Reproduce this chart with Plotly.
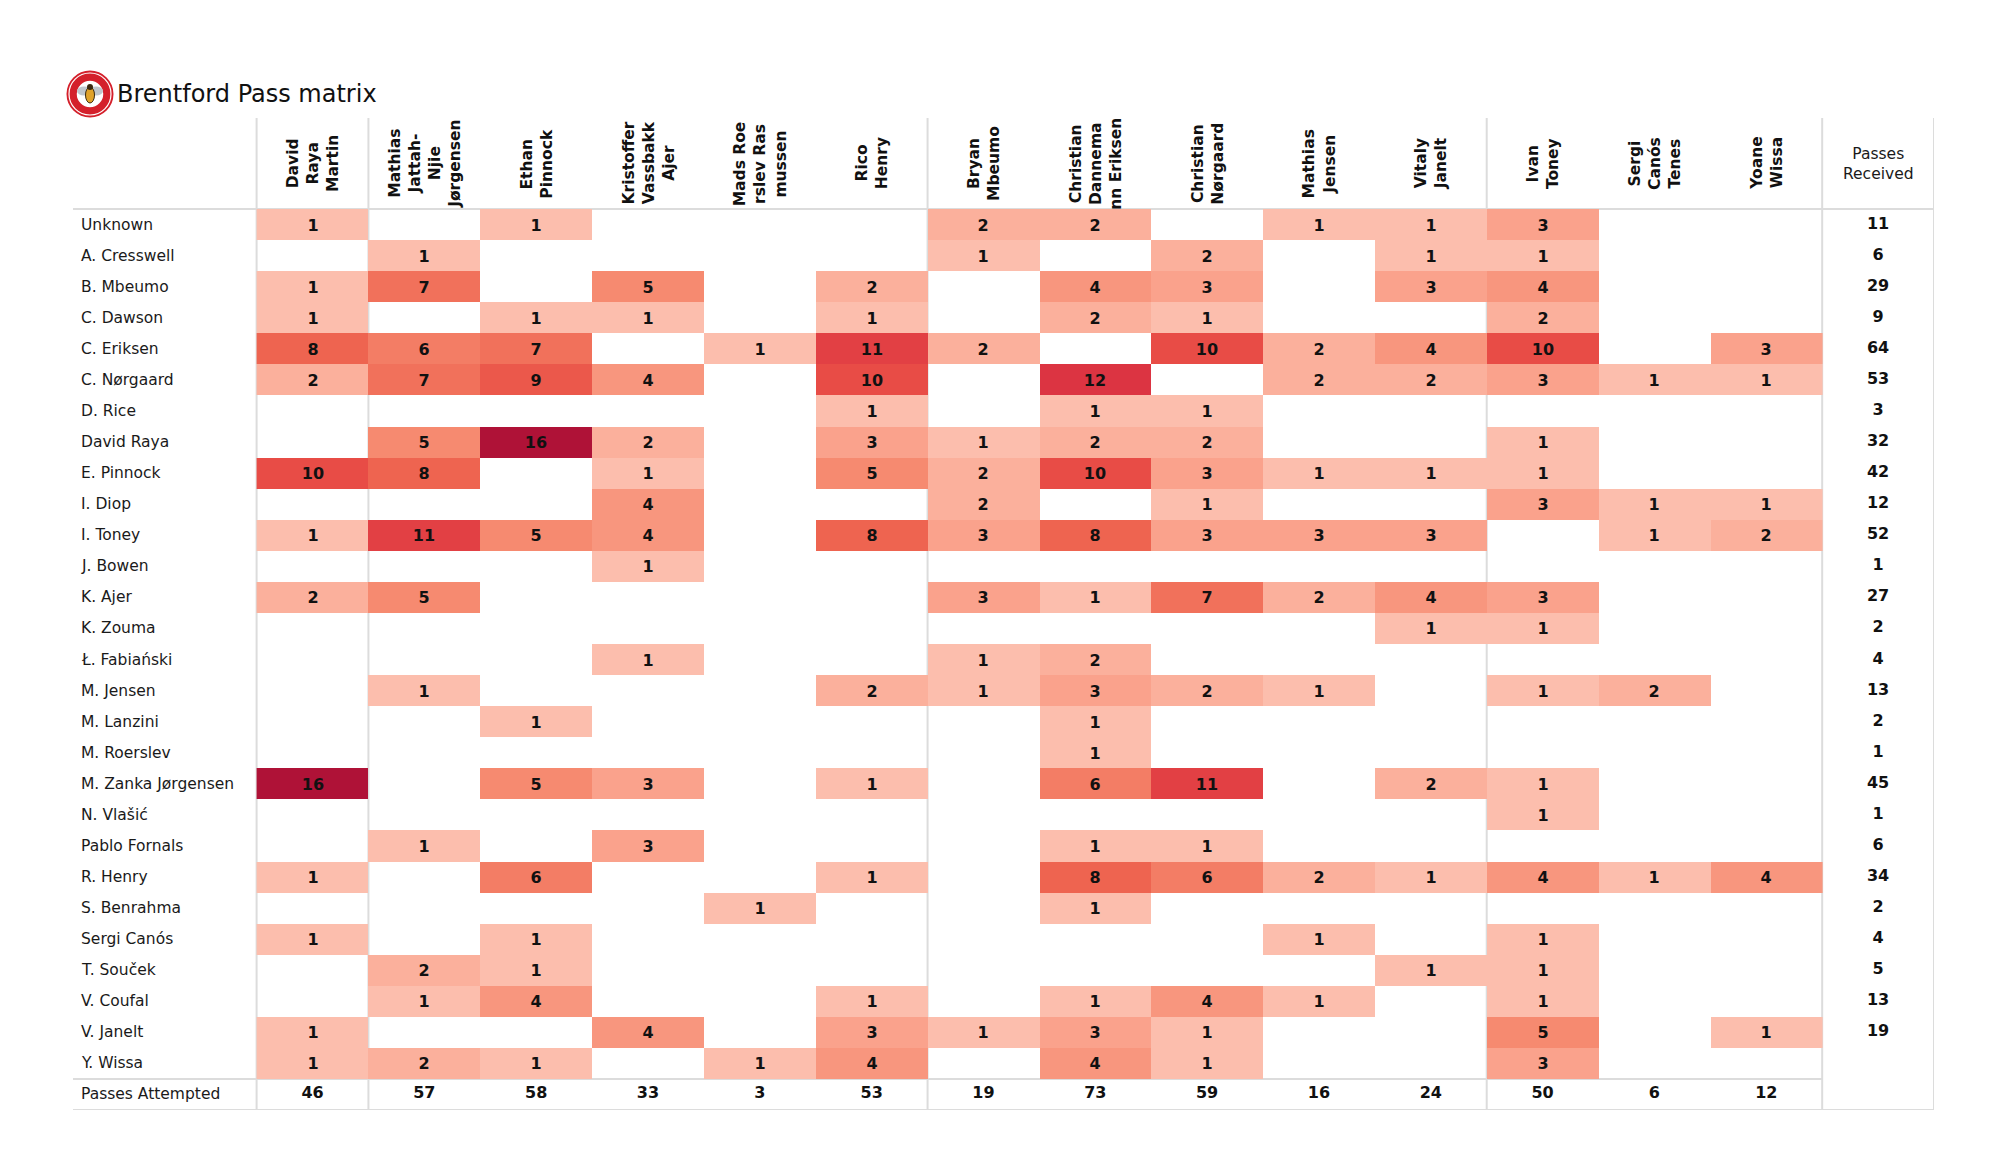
import plotly.graph_objects as go

# ---------------- data ----------------
title_text = "Brentford Pass matrix"

receivers = [
    "David<br>Raya<br>Martin",
    "Mathias<br>Jattah-<br>Njie<br>Jørgensen",
    "Ethan<br>Pinnock",
    "Kristoffer<br>Vassbakk<br>Ajer",
    "Mads Roe<br>rslev Ras<br>mussen",
    "Rico<br>Henry",
    "Bryan<br>Mbeumo",
    "Christian<br>Dannema<br>nn Eriksen",
    "Christian<br>Nørgaard",
    "Mathias<br>Jensen",
    "Vitaly<br>Janelt",
    "Ivan<br>Toney",
    "Sergi<br>Canós<br>Tenes",
    "Yoane<br>Wissa",
]

passers = [
    "Unknown", "A. Cresswell", "B. Mbeumo", "C. Dawson", "C. Eriksen",
    "C. Nørgaard", "D. Rice", "David Raya", "E. Pinnock", "I. Diop",
    "I. Toney", "J. Bowen", "K. Ajer", "K. Zouma", "Ł. Fabiański",
    "M. Jensen", "M. Lanzini", "M. Roerslev", "M. Zanka Jørgensen",
    "N. Vlašić", "Pablo Fornals", "R. Henry", "S. Benrahma", "Sergi Canós",
    "T. Souček", "V. Coufal", "V. Janelt", "Y. Wissa",
]

N = None
passes = [
    [1, N, 1, N, N, N, 2, 2, N, 1, 1, 3, N, N],
    [N, 1, N, N, N, N, 1, N, 2, N, 1, 1, N, N],
    [1, 7, N, 5, N, 2, N, 4, 3, N, 3, 4, N, N],
    [1, N, 1, 1, N, 1, N, 2, 1, N, N, 2, N, N],
    [8, 6, 7, N, 1, 11, 2, N, 10, 2, 4, 10, N, 3],
    [2, 7, 9, 4, N, 10, N, 12, N, 2, 2, 3, 1, 1],
    [N, N, N, N, N, 1, N, 1, 1, N, N, N, N, N],
    [N, 5, 16, 2, N, 3, 1, 2, 2, N, N, 1, N, N],
    [10, 8, N, 1, N, 5, 2, 10, 3, 1, 1, 1, N, N],
    [N, N, N, 4, N, N, 2, N, 1, N, N, 3, 1, 1],
    [1, 11, 5, 4, N, 8, 3, 8, 3, 3, 3, N, 1, 2],
    [N, N, N, 1, N, N, N, N, N, N, N, N, N, N],
    [2, 5, N, N, N, N, 3, 1, 7, 2, 4, 3, N, N],
    [N, N, N, N, N, N, N, N, N, N, 1, 1, N, N],
    [N, N, N, 1, N, N, 1, 2, N, N, N, N, N, N],
    [N, 1, N, N, N, 2, 1, 3, 2, 1, N, 1, 2, N],
    [N, N, 1, N, N, N, N, 1, N, N, N, N, N, N],
    [N, N, N, N, N, N, N, 1, N, N, N, N, N, N],
    [16, N, 5, 3, N, 1, N, 6, 11, N, 2, 1, N, N],
    [N, N, N, N, N, N, N, N, N, N, N, 1, N, N],
    [N, 1, N, 3, N, N, N, 1, 1, N, N, N, N, N],
    [1, N, 6, N, N, 1, N, 8, 6, 2, 1, 4, 1, 4],
    [N, N, N, N, 1, N, N, 1, N, N, N, N, N, N],
    [1, N, 1, N, N, N, N, N, N, 1, N, 1, N, N],
    [N, 2, 1, N, N, N, N, N, N, N, 1, 1, N, N],
    [N, 1, 4, N, N, 1, N, 1, 4, 1, N, 1, N, N],
    [1, N, N, 4, N, 3, 1, 3, 1, N, N, 5, N, 1],
    [1, 2, 1, N, 1, 4, N, 4, 1, N, N, 3, N, N],
]

passes_received = [11, 6, 29, 9, 64, 53, 3, 32, 42, 12, 52, 1, 27, 2, 4, 13,
                   2, 1, 45, 1, 6, 34, 2, 4, 5, 13, 19, None]
passes_attempted = [46, 57, 58, 33, 3, 53, 19, 73, 59, 16, 24, 50, 6, 12]

# ---------------- layout constants ----------------
W, H = 2000, 1175
BODY = 8  # default page body margin
# target page-pixel box of the table area
PX_L, PX_R, PX_T, PX_B = 73, 1934, 118, 1110
ML = PX_L - BODY
MT = PX_T - BODY
MR = W - (PX_R - BODY)
MB = H - (PX_B - BODY)
PLOT_W = PX_R - PX_L
PLOT_H = PX_B - PX_T

COL_W = 111.88
ROW_H = 31.07
ncol = len(receivers)
nrow = len(passers)
label_w = 183.7 / COL_W
header_h = 91 / ROW_H
x_lo = -0.5 - label_w
x_hi = ncol + 0.5
y_top = -0.5 - header_h
y_bot = nrow + 0.5


def px_paper(px, py):
    """page pixel -> paper coordinates"""
    return (px - PX_L) / PLOT_W, 1 - (py - PX_T) / PLOT_H


FONT = "DejaVu Sans"
TXT = "#111111"
GRID = "#dcdcdc"

colorscale = [
    [0.0, "rgb(252,190,173)"],
    [0.133, "rgb(250,162,140)"],
    [0.267, "rgb(246,138,112)"],
    [0.467, "rgb(238,100,80)"],
    [0.6, "rgb(232,76,70)"],
    [0.733, "rgb(220,52,66)"],
    [1.0, "rgb(175,18,55)"],
]

cell_text = [["" if v is None else str(v) for v in row] for row in passes]

fig = go.Figure()
fig.add_trace(go.Heatmap(
    z=passes, x=list(range(ncol)), y=list(range(nrow)),
    text=cell_text, texttemplate="%{text}",
    textfont=dict(family=FONT, size=16, color=TXT, weight="bold"),
    colorscale=colorscale, zmin=1, zmax=16, showscale=False,
    hoverinfo="skip", xgap=0, ygap=0,
))

# passes received column
rec_y = [i for i, v in enumerate(passes_received) if v is not None]
rec_t = [str(v) for v in passes_received if v is not None]
fig.add_trace(go.Scatter(
    x=[ncol] * len(rec_y), y=rec_y, text=rec_t, mode="text",
    textfont=dict(family=FONT, size=16, color=TXT, weight="bold"),
    textposition="middle center", hoverinfo="skip", showlegend=False,
))
# passes attempted row
fig.add_trace(go.Scatter(
    x=list(range(ncol)), y=[nrow] * ncol, text=[str(v) for v in passes_attempted],
    mode="text", textfont=dict(family=FONT, size=16, color=TXT, weight="bold"),
    textposition="middle center", hoverinfo="skip", showlegend=False,
))

annotations = []
# row labels
for i, name in enumerate(passers + ["Passes Attempted"]):
    annotations.append(dict(
        x=x_lo + 6 / COL_W, y=i, xref="x", yref="y", text=name,
        showarrow=False, xanchor="left", yanchor="middle",
        font=dict(family=FONT, size=15.5, color="#1a1a1a"),
    ))
# column headers
hy = -0.5 - header_h / 2
for j, lab in enumerate(receivers):
    annotations.append(dict(
        x=j, y=hy, xref="x", yref="y", text=f"<b>{lab}</b>", textangle=-90,
        showarrow=False, xanchor="center", yanchor="middle", align="center",
        font=dict(family=FONT, size=15.5, color=TXT),
    ))
annotations.append(dict(
    x=ncol, y=hy, xref="x", yref="y", text="Passes<br>Received",
    showarrow=False, xanchor="center", yanchor="middle", align="center",
    font=dict(family=FONT, size=15.5, color="#1a1a1a"),
))
# title
tx, ty = px_paper(115, 94)
annotations.append(dict(
    x=tx, y=ty, xref="paper", yref="paper", text=title_text,
    showarrow=False, xanchor="left", yanchor="middle",
    font=dict(family=FONT, size=24, color="#111111"),
))

shapes = []
# vertical separators
for xv in [-0.5, 0.5, 5.5, 10.5, 13.5, 14.5]:
    shapes.append(dict(type="line", xref="x", yref="y", x0=xv, x1=xv,
                       y0=y_top, y1=y_bot, line=dict(color=GRID, width=2),
                       layer="below"))
# horizontal separators
shapes.append(dict(type="line", xref="x", yref="y", x0=x_lo, x1=x_hi,
                   y0=-0.5, y1=-0.5, line=dict(color=GRID, width=2), layer="below"))
shapes.append(dict(type="line", xref="x", yref="y", x0=x_lo, x1=ncol - 0.5,
                   y0=nrow - 0.5, y1=nrow - 0.5, line=dict(color=GRID, width=2), layer="below"))
shapes.append(dict(type="line", xref="x", yref="y", x0=x_lo, x1=x_hi,
                   y0=y_bot, y1=y_bot, line=dict(color=GRID, width=2), layer="below"))

# logo (approximate Brentford crest)
lx, ly = px_paper(90, 94)


def circ(r, fill, line_color=None, lw=0, dx=0, dy=0, rx=None):
    rx = r if rx is None else rx
    return dict(type="circle", xref="paper", yref="paper", xsizemode="pixel", ysizemode="pixel",
                xanchor=lx, yanchor=ly, x0=dx - rx, x1=dx + rx, y0=dy - r, y1=dy + r,
                fillcolor=fill, line=dict(color=line_color or fill, width=lw),
                layer="above")


shapes += [
    circ(23.5, "#d4202b"),
    circ(21, "rgba(0,0,0,0)", "white", 1.2),
    circ(14, "white", "#d4202b", 1.5),
    circ(4.5, "#bfc6cc", dx=-6, dy=3, rx=7),
    circ(4.5, "#bfc6cc", dx=6, dy=3, rx=7),
    circ(8, "#e0a32a", "#3a2a10", 1, dx=0, dy=-1, rx=4.5),
    circ(3, "#3a2a10", dx=0, dy=7, rx=3),
]

fig.update_layout(
    width=W, height=H,
    margin=dict(l=ML, r=MR, t=MT, b=MB, pad=0),
    paper_bgcolor="white", plot_bgcolor="white",
    xaxis=dict(range=[x_lo, x_hi], visible=False, fixedrange=True),
    yaxis=dict(range=[y_bot, y_top], visible=False, fixedrange=True),
    annotations=annotations, shapes=shapes, showlegend=False,
)

fig.write_html("out.html")
